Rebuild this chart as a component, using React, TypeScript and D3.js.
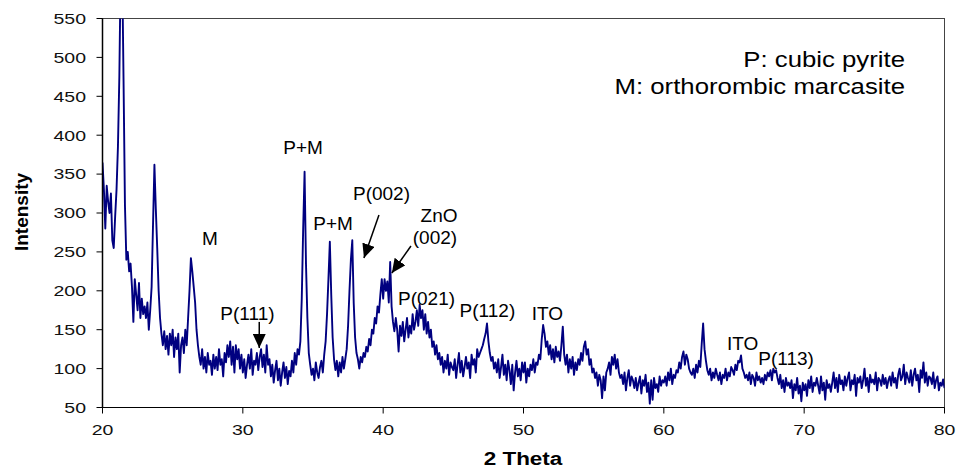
import React from "react";
import * as d3 from "d3";

const startAngle = 20;
const angleStep = 0.1;

const intensity20s = [
  365, 330, 280, 335, 315, 300, 325, 265, 255, 295,
  330, 385, 475, 620, 620, 470, 310, 240, 250, 225,
  235, 205, 160, 215, 195, 175, 210, 165, 190, 170,
  180, 165, 185, 150, 175, 205, 285, 362, 305, 255,
  200, 165, 145, 130, 148, 125, 142, 118, 145, 130,
  150, 115, 140, 125, 145, 95, 130, 140, 120, 150,
  130, 165, 200, 242, 225, 205, 185, 150, 130, 115,
  105, 125, 100, 115, 95, 120, 105, 110, 92, 118,
  100, 115, 98, 125, 105, 112, 90, 120, 108, 130,
  115, 135, 105, 128, 95, 130, 112, 125, 100, 118,
];
const intensity30s = [
  95, 112, 88, 105, 118, 100, 125, 92, 110, 105,
  120, 98, 115, 125, 102, 118, 95, 130, 105, 112,
  90, 105, 82, 98, 110, 85, 100, 78, 95, 108,
  88, 102, 80, 97, 90, 110, 95, 120, 105, 125,
  118, 135, 190, 280, 353, 235, 165, 120, 105, 92,
  100, 85, 108, 95, 88, 102, 110, 95, 118, 135,
  170, 215, 263, 195, 140, 112, 98, 110, 90, 108,
  95, 115, 100, 112, 125, 155, 200, 240, 265, 185,
  140, 120, 112, 100, 115, 108, 120, 115, 128, 122,
  138, 130, 150, 145, 165, 158, 180, 172, 195, 215,
];
const intensity40s = [
  190, 215, 200, 212, 185, 237, 180, 160, 148, 165,
  150, 122, 155, 142, 160, 135, 150, 165, 140, 155,
  145, 170, 150, 160, 175, 155, 182, 165, 175, 150,
  170, 145, 160, 140, 150, 128, 135, 118, 130, 112,
  120, 105, 115, 95, 110, 100, 118, 92, 108, 102,
  98, 112, 88, 105, 120, 95, 110, 90, 102, 115,
  100, 108, 88, 118, 105, 112, 95, 125, 115, 120,
  125, 130, 138, 145, 158, 135, 120, 110, 115, 100,
  108, 95, 112, 88, 102, 118, 92, 105, 85, 110,
  98, 80, 105, 72, 95, 110, 90, 100, 85, 108,
];
const intensity50s = [
  95, 108, 82, 100, 90, 105, 98, 112, 95, 108,
  105, 118, 112, 138, 156, 145, 128, 135, 118, 130,
  112, 125, 108, 128, 115, 122, 110, 130, 154, 118,
  105, 118, 95, 112, 100, 115, 92, 108, 98, 112,
  105, 120, 110, 128, 135, 118, 125, 105, 112, 95,
  100, 88, 95, 78, 92, 85, 62, 90, 72, 95,
  100, 108, 92, 115, 105, 118, 100, 112, 95, 88,
  92, 80, 95, 72, 88, 98, 78, 90, 85, 75,
  88, 72, 82, 90, 68, 85, 78, 92, 70, 82,
  55, 85, 60, 88, 75, 80, 70, 90, 78, 85,
];
const intensity60s = [
  82, 90, 78, 95, 85, 100, 80, 92, 88, 98,
  95, 108, 100, 115, 122, 105, 118, 112, 100, 95,
  92, 100, 88, 105, 95, 110, 102, 132, 158, 125,
  110, 98, 92, 100, 85, 95, 88, 100, 92, 85,
  95, 80, 92, 88, 100, 85, 95, 90, 102, 98,
  92, 105, 98, 110, 108, 117, 100, 95, 88, 92,
  85, 95, 80, 92, 88, 78, 95, 85, 90, 82,
  88, 80, 92, 85, 95, 90, 98, 85, 100, 95,
  98, 88, 80, 92, 75, 85, 70, 88, 78, 82,
  75, 85, 62, 80, 72, 88, 68, 78, 58, 82,
];
const intensity70s = [
  72, 80, 65, 85, 75, 90, 70, 82, 78, 88,
  78, 68, 90, 72, 82, 60, 85, 75, 80, 70,
  82, 95, 75, 88, 70, 92, 80, 85, 72, 90,
  78, 88, 95, 72, 85, 80, 92, 65, 88, 82,
  90, 75, 85, 100, 78, 88, 70, 92, 82, 86,
  80, 95, 72, 88, 85, 78, 92, 80, 88, 75,
  85, 90, 78, 95, 82, 88, 75, 92, 100, 85,
  90, 105, 80, 95, 88, 82, 98, 78, 92, 100,
  85, 92, 70, 98, 88, 108, 82, 95, 78, 90,
  88, 80, 95, 75, 85, 90, 72, 82, 78, 86,
  75,
];

const xTicks = [20, 30, 40, 50, 60, 70, 80];
const yTicks = [50, 100, 150, 200, 250, 300, 350, 400, 450, 500, 550];

const peakLabels = [
  { text: "M", x: 27.66, y: 259 },
  { text: "P(111)", x: 30.33, y: 162.5 },
  { text: "P+M", x: 34.29, y: 375.8 },
  { text: "P+M", x: 36.43, y: 278 },
  { text: "P(002)", x: 39.88, y: 316.7 },
  { text: "ZnO", x: 43.98, y: 288.4 },
  { text: "(002)", x: 43.69, y: 260 },
  { text: "P(021)", x: 43.09, y: 181.7 },
  { text: "P(112)", x: 47.43, y: 166.7 },
  { text: "ITO", x: 51.7, y: 162.5 },
  { text: "ITO", x: 65.61, y: 124 },
  { text: "P(113)", x: 68.71, y: 104.7 },
];

const arrowsData = [
  { x1: 31.17, y1: 160, x2: 31.17, y2: 126.5 },
  { x1: 39.7, y1: 297.4, x2: 38.63, y2: 242.2 },
  { x1: 41.98, y1: 257.6, x2: 40.62, y2: 222.9 },
];

const legendLines = ["P: cubic pyrite", "M: orthorombic marcasite"];

export default function App() {
  const W = 956;
  const H = 470;
  const left = 102.5;
  const right = 944.5;
  const top = 18.5;
  const bottom = 407.5;

  const x = d3.scaleLinear().domain([20, 80]).range([left, right]);
  const y = d3.scaleLinear().domain([50, 550]).range([bottom, top]);

  const intensity = [
    ...intensity20s,
    ...intensity30s,
    ...intensity40s,
    ...intensity50s,
    ...intensity60s,
    ...intensity70s,
  ];
  const points: [number, number][] = intensity.map((v, i) => [
    startAngle + i * angleStep,
    v,
  ]);
  const linePath = d3
    .line<[number, number]>()
    .x((d) => x(d[0]))
    .y((d) => y(d[1]))(points) as string;

  const font = "Arial, 'Liberation Sans', Helvetica, sans-serif";

  return (
    <svg
      width={W}
      height={H}
      style={{ position: "absolute", left: 0, top: 0, background: "#fff" }}
      fontFamily={font}
    >
      <defs>
        <clipPath id="plotClip">
          <rect x={left} y={top} width={right - left} height={bottom - top} />
        </clipPath>
        <marker
          id="arrowHead"
          markerUnits="userSpaceOnUse"
          viewBox="0 0 14 13"
          markerWidth={14}
          markerHeight={13}
          refX={14}
          refY={6.5}
          orient="auto"
        >
          <path d="M0,0 L14,6.5 L0,13 Z" fill="#000" />
        </marker>
      </defs>

      {/* plot border */}
      <rect
        x={left}
        y={top}
        width={right - left}
        height={bottom - top}
        fill="none"
        stroke="#444"
        strokeWidth={1}
      />

      {/* data line */}
      <path
        d={linePath}
        fill="none"
        stroke="#000080"
        strokeWidth={1.9}
        strokeLinejoin="round"
        clipPath="url(#plotClip)"
      />

      {/* axes */}
      <line x1={left} x2={left} y1={top} y2={bottom} stroke="#000" strokeWidth={1.5} />
      <line x1={left} x2={right} y1={bottom} y2={bottom} stroke="#000" strokeWidth={1.2} />

      {yTicks.map((t) => (
        <g key={"y" + t}>
          <line x1={left - 6} x2={left} y1={y(t)} y2={y(t)} stroke="#000" strokeWidth={1} />
          <text
            transform={`translate(86,${y(t) + 5.3}) scale(1.3,1)`}
            textAnchor="end"
            fontSize={15}
            fill="#111"
          >
            {t}
          </text>
        </g>
      ))}
      {xTicks.map((t) => (
        <g key={"x" + t}>
          <line x1={x(t)} x2={x(t)} y1={bottom} y2={bottom + 6} stroke="#000" strokeWidth={1} />
          <text
            transform={`translate(${x(t)},435) scale(1.3,1)`}
            textAnchor="middle"
            fontSize={15}
            fill="#111"
          >
            {t}
          </text>
        </g>
      ))}

      {/* axis titles */}
      <text
        transform="translate(28,212) rotate(-90)"
        textAnchor="middle"
        fontSize={19}
        fontWeight="bold"
        fill="#000"
      >
        Intensity
      </text>
      <text
        transform="translate(523,465) scale(1.25,1)"
        textAnchor="middle"
        fontSize={18}
        fontWeight="bold"
        fill="#000"
      >
        2 Theta
      </text>

      {/* peak labels */}
      {peakLabels.map((p, i) => (
        <text
          key={"p" + i}
          x={x(p.x)}
          y={y(p.y)}
          textAnchor="middle"
          fontSize={19}
          fill="#000"
        >
          {p.text}
        </text>
      ))}

      {/* arrows */}
      {arrowsData.map((a, i) => (
        <line
          key={"a" + i}
          x1={x(a.x1)}
          y1={y(a.y1)}
          x2={x(a.x2)}
          y2={y(a.y2)}
          stroke="#000"
          strokeWidth={1.5}
          markerEnd="url(#arrowHead)"
        />
      ))}

      {/* legend text */}
      {legendLines.map((l, i) => (
        <text
          key={"l" + i}
          transform={`translate(905,${66.7 + i * 27.6}) scale(1.12,1)`}
          textAnchor="end"
          fontSize={23}
          fill="#000"
        >
          {l}
        </text>
      ))}
    </svg>
  );
}
